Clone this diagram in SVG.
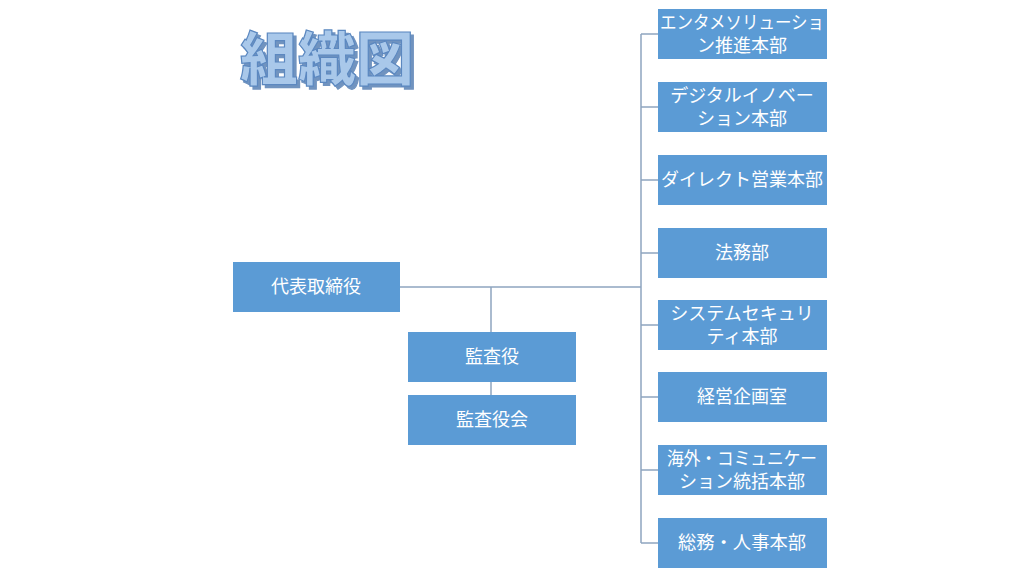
<svg xmlns="http://www.w3.org/2000/svg" width="1024" height="583" viewBox="0 0 1024 583">
<defs>
<filter id="sh" x="-10%" y="-10%" width="130%" height="140%"><feDropShadow dx="3" dy="3" stdDeviation="0.5" flood-color="#6f93bf"/></filter>
</defs>
<style>
.b{fill:#5b9bd5}
.t{font-family:"Liberation Sans","Noto Sans CJK JP",sans-serif;font-size:18px;fill:#fff;text-anchor:middle}
.c{stroke:#8fa5c0;stroke-width:1.5;fill:none}
</style>
<rect width="1024" height="583" fill="#fff"/>
<g id="title">
<text x="240" y="80" font-family="'Noto Sans CJK JP',sans-serif" font-weight="900" font-size="58" fill="#a9c8ea" stroke="#5b88c0" stroke-width="1.2" filter="url(#sh)">組織図</text>
</g>
<g id="connectors" class="c">
<path d="M400 287H641M641 34V543M491 287V332M491 382V395"/>
<path d="M641 34H658M641 107H658M641 180H658M641 253H658M641 325H658M641 397H658M641 470H658M641 543H658"/>
</g>
<g id="ceo"><rect class="b" x="233" y="262" width="167" height="50"/><text class="t" x="316" y="293">代表取締役</text></g>
<g id="auditor"><rect class="b" x="408" y="332" width="168" height="50"/><text class="t" x="492" y="363">監査役</text></g>
<g id="board"><rect class="b" x="408" y="395" width="168" height="50"/><text class="t" x="492" y="426">監査役会</text></g>
<g id="d1"><rect class="b" x="658" y="9" width="169" height="50"/><text class="t" x="742" y="29" textLength="164" lengthAdjust="spacingAndGlyphs">エンタメソリューショ</text><text class="t" x="742" y="52">ン推進本部</text></g>
<g id="d2"><rect class="b" x="658" y="82" width="169" height="50"/><text class="t" x="742" y="102">デジタルイノベー</text><text class="t" x="742" y="125">ション本部</text></g>
<g id="d3"><rect class="b" x="658" y="155" width="169" height="50"/><text class="t" x="742" y="186">ダイレクト営業本部</text></g>
<g id="d4"><rect class="b" x="658" y="228" width="169" height="50"/><text class="t" x="742" y="259">法務部</text></g>
<g id="d5"><rect class="b" x="658" y="300" width="169" height="50"/><text class="t" x="742" y="320">システムセキュリ</text><text class="t" x="742" y="343">ティ本部</text></g>
<g id="d6"><rect class="b" x="658" y="372" width="169" height="50"/><text class="t" x="742" y="403">経営企画室</text></g>
<g id="d7"><rect class="b" x="658" y="445" width="169" height="50"/><text class="t" x="742" y="465" textLength="150" lengthAdjust="spacingAndGlyphs">海外・コミュニケー</text><text class="t" x="742" y="488">ション統括本部</text></g>
<g id="d8"><rect class="b" x="658" y="518" width="169" height="50"/><text class="t" x="742" y="549" textLength="128" lengthAdjust="spacingAndGlyphs">総務・人事本部</text></g>
</svg>
